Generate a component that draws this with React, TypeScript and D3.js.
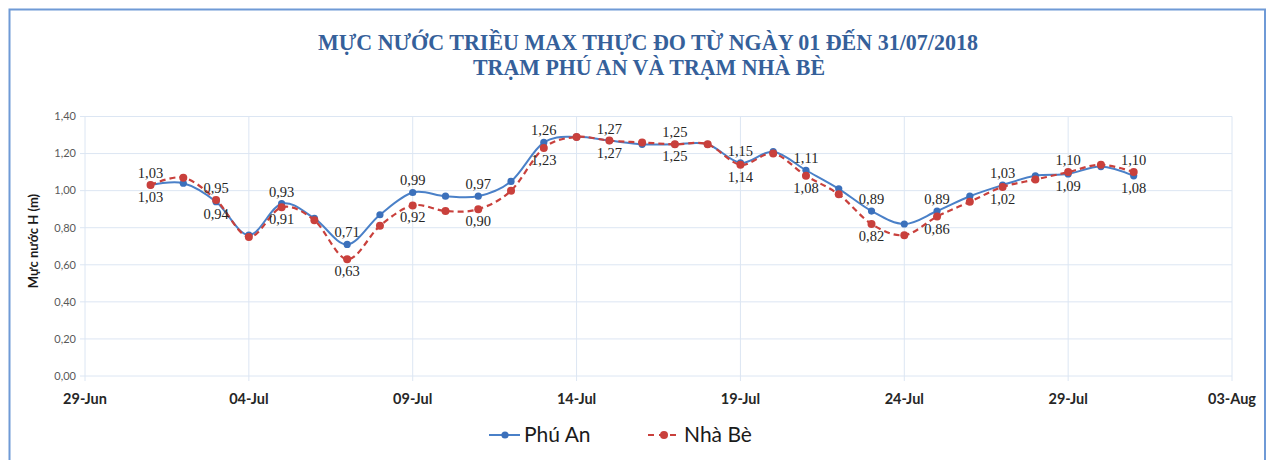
import React from 'react';
import * as d3 from 'd3';

// Mực nước triều max, 01 -> 31/07/2018
const days = d3.range(1, 32);
const phuAn = [1.03, 1.04, 0.94, 0.76, 0.93, 0.85, 0.71, 0.87, 0.99, 0.97, 0.97, 1.05, 1.26, 1.29, 1.27, 1.25,
  1.25, 1.25, 1.15, 1.21, 1.11, 1.01, 0.89, 0.82, 0.89, 0.97, 1.03, 1.08, 1.09, 1.13, 1.08];
const nhaBe = [1.03, 1.07, 0.95, 0.75, 0.91, 0.84, 0.63, 0.81, 0.92, 0.89, 0.90, 1.00, 1.23, 1.29, 1.27, 1.26,
  1.25, 1.25, 1.14, 1.20, 1.08, 0.98, 0.82, 0.76, 0.86, 0.94, 1.02, 1.06, 1.10, 1.14, 1.10];
const seriesNames = ['Phú An', 'Nhà Bè'];
const yTicks = [0, 0.2, 0.4, 0.6, 0.8, 1.0, 1.2, 1.4];

const titleLines = [
  'MỰC NƯỚC TRIỀU MAX THỰC ĐO TỪ NGÀY 01 ĐẾN 31/07/2018',
  'TRẠM PHÚ AN VÀ TRẠM NHÀ BÈ',
];

const W = 1269;
const H = 460;
const left = 85;
const right = 1232;
const top = 116.5;
const bottom = 376;

const BLUE = '#4a80c8';
const BLUE_DOT = '#3b70bb';
const RED = '#c9403c';

const vn = d3.formatLocale({ decimal: ',', thousands: '.', grouping: [3], currency: ['', ''] });
const fmt = vn.format('.2f');
const fmtDate = d3.timeFormat('%d-%b');

const x0 = new Date(2018, 5, 29);
const x1 = new Date(2018, 7, 3);
const dates = days.map(d => new Date(2018, 6, d));

const App = () => {
  const x = d3.scaleTime().domain([x0, x1]).range([left, right]);
  const y = d3.scaleLinear().domain([0, 1.4]).range([bottom, top]);
  const xTicks = d3.timeDay.range(x0, d3.timeDay.offset(x1, 1), 5);

  const line = d3.line<number>()
    .x((_, i) => x(dates[i]))
    .y(v => y(v))
    .curve(d3.curveCardinal.tension(0));

  const series = [
    { name: seriesNames[0], values: phuAn, color: BLUE, dot: BLUE_DOT, dash: null, r: 3.6, w: 2 },
    { name: seriesNames[1], values: nhaBe, color: RED, dot: RED, dash: '6,4', r: 4, w: 2.2 },
  ];

  // labels on every second day; higher value above, lower below
  const labels: { x: number; y: number; text: string }[] = [];
  days.forEach((_, i) => {
    if (i % 2 !== 0) return;
    const a = phuAn[i];
    const b = nhaBe[i];
    const upper = b > a ? b : a;
    const lower = b > a ? a : b;
    labels.push({ x: x(dates[i]), y: y(upper) - 7, text: fmt(upper) });
    labels.push({ x: x(dates[i]), y: y(lower) + 17, text: fmt(lower) });
  });

  return (
    <svg width={W} height={H} style={{ position: 'absolute', left: 0, top: 0, display: 'block', background: '#fff' }}>
      <rect x={9.5} y={9.5} width={1255.5} height={H} fill='none' stroke='#6f9ad6' strokeWidth={2} />

      <g fontFamily='"Liberation Serif", "Times New Roman", serif' fontWeight='bold' fill='#35609a' textAnchor='middle'>
        <text x={648} y={50} fontSize={24} textLength={660} lengthAdjust='spacingAndGlyphs'>{titleLines[0]}</text>
        <text x={649} y={75} fontSize={24} textLength={352} lengthAdjust='spacingAndGlyphs'>{titleLines[1]}</text>
      </g>

      {/* grid */}
      <g stroke='#dce6f3' strokeWidth={1}>
        {yTicks.map(t => (
          <line key={'h' + t} x1={left - 5} x2={right} y1={y(t)} y2={y(t)} />
        ))}
        {xTicks.map(t => (
          <line key={'v' + t.getTime()} x1={x(t)} x2={x(t)} y1={top} y2={bottom + 5} />
        ))}
      </g>

      <g fontFamily='Lato, "Liberation Sans", sans-serif' fontSize={11} fill='#595959' textAnchor='end'>
        {yTicks.map(t => (
          <text key={t} x={76} y={y(t)} dy='0.35em'>{fmt(t)}</text>
        ))}
      </g>

      <g fontFamily='Lato, "Liberation Sans", sans-serif' fontSize={14.5} fontWeight='bold' fill='#262626' textAnchor='middle'>
        {xTicks.map(t => (
          <text key={t.getTime()} x={x(t)} y={404}>{fmtDate(t)}</text>
        ))}
      </g>

      <text transform='translate(38,241) rotate(-90)' textAnchor='middle' fontFamily='Lato, "Liberation Sans", sans-serif'
        fontSize={13} fontWeight='bold' fill='#1a1a1a'>Mực nước H (m)</text>

      {series.map(s => (
        <g key={s.name}>
          <path d={line(s.values) || ''} fill='none' stroke={s.color} strokeWidth={s.w}
            strokeDasharray={s.dash || undefined} />
          {s.values.map((v, i) => (
            <circle key={i} cx={x(dates[i])} cy={y(v)} r={s.r} fill={s.dot} />
          ))}
        </g>
      ))}

      <g fontFamily='"Liberation Serif", "Times New Roman", serif' fontSize={14.5} fill='#262626' textAnchor='middle'>
        {labels.map((l, i) => (
          <text key={i} x={l.x} y={l.y}>{l.text}</text>
        ))}
      </g>

      {/* legend */}
      <g fontFamily='Lato, "Liberation Sans", sans-serif' fontSize={21} fill='#1a1a1a'>
        <line x1={489} x2={520} y1={435} y2={435} stroke={BLUE} strokeWidth={2} />
        <circle cx={505} cy={435} r={3.6} fill={BLUE_DOT} />
        <text x={524} y={442}>{seriesNames[0]}</text>
        <line x1={648} x2={680} y1={435} y2={435} stroke={RED} strokeWidth={2.2} strokeDasharray='6,5' />
        <circle cx={664} cy={435} r={4} fill={RED} />
        <text x={684} y={442}>{seriesNames[1]}</text>
      </g>
    </svg>
  );
};

export default App;
